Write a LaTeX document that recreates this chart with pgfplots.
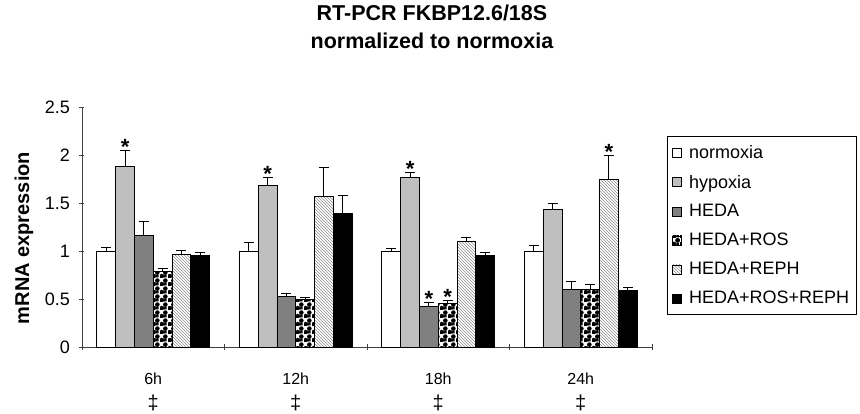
\documentclass[border=0pt]{standalone}
\usepackage{fontspec}
\setmainfont{Liberation Sans}
\usepackage{pgfplots}
\usepackage{pgfplotstable}
\pgfplotsset{compat=1.18}
\usetikzlibrary{patterns}

\pgfdeclarepatternformonly{balls}{\pgfqpoint{0pt}{0pt}}{\pgfqpoint{8pt}{8pt}}{\pgfqpoint{8pt}{8pt}}{
  \pgfpathcircle{\pgfqpoint{2pt}{2pt}}{2.6pt}
  \pgfpathcircle{\pgfqpoint{6pt}{6pt}}{2.6pt}
  \pgfusepath{fill}
  \pgfpathrectangle{\pgfqpoint{4.6pt}{0.6pt}}{\pgfqpoint{2.8pt}{2.8pt}}
  \pgfusepath{fill}
}

\pgfplotstableread{
x y e
0 1.000 0.040
1 1.000 0.084
2 1.000 0.025
3 1.000 0.056
}\normoxia
\pgfplotstableread{
x y e
0 1.884 0.166
1 1.686 0.076
2 1.762 0.058
3 1.430 0.070
}\hypoxia
\pgfplotstableread{
x y e
0 1.160 0.150
1 0.526 0.028
2 0.420 0.047
3 0.602 0.080
}\heda
\pgfplotstableread{
x y e
0 0.786 0.028
1 0.500 0.015
2 0.457 0.028
3 0.602 0.045
}\hedaros
\pgfplotstableread{
x y e
0 0.966 0.044
1 1.569 0.297
2 1.098 0.048
3 1.749 0.251
}\hedareph
\pgfplotstableread{
x y e
0 0.949 0.041
1 1.389 0.190
2 0.949 0.031
3 0.592 0.028
}\hedarosreph

\newcommand{\dg}{{\fontsize{20}{20}\selectfont ‡}}

\begin{document}
\begin{tikzpicture}
\begin{axis}[
  name=ax,
  scale only axis,
  width=570pt, height=240pt,
  ybar=0pt, bar width=18.8pt,
  xmin=-0.5, xmax=3.5,
  ymin=0, ymax=2.5,
  ytick={0,0.5,1,1.5,2,2.5},
  yticklabels={0,0.5,1,1.5,2,2.5},
  xtick={0,1,2,3},
  xticklabels={{6h\\[6pt]\dg},{12h\\[6pt]\dg},{18h\\[6pt]\dg},{24h\\[6pt]\dg}},
  minor xtick={-0.5,0.5,1.5,2.5,3.5},
  major x tick style={draw=none},
  minor tick length=6pt,
  major tick length=5pt,
  tick align=outside,
  axis x line=bottom, axis y line=left,
  axis line style={-, black!75, line width=0.8pt},
  every tick/.style={black!75, line width=0.8pt},
  yticklabel style={font=\fontsize{18}{20}\selectfont, xshift=-6pt},
  xticklabel style={font=\fontsize{16}{19}\selectfont, align=center, yshift=-20pt},
  ylabel={mRNA expression},
  ylabel style={font=\bfseries\fontsize{20}{22}\selectfont, at={(axis description cs:-0.102,0.454)}, anchor=center},
  title={RT-PCR FKBP12.6/18S\\normalized to normoxia},
  title style={at={(0.614,1.4)}, anchor=north, inner sep=0pt, align=center, font=\bfseries\fontsize{21.5}{28}\selectfont},
  legend style={at={(1,0.879)}, anchor=north west, xshift=15pt, draw=black, line width=0.8pt,
    font=\fontsize{18}{18}\selectfont, row sep=11pt, inner xsep=5pt, inner ysep=7pt},
  legend cell align=left,
  legend image code/.code={\draw[#1, line width=0.8pt] (0pt,-4.5pt) rectangle (9pt,4.5pt); \path (14pt,0pt);},
  error bars/y dir=plus, error bars/y explicit,
  error bars/error bar style={black, line width=0.9pt},
  error bars/error mark options={rotate=90, mark size=5pt, line width=0.9pt, black},
]
\addplot[draw=black, line width=0.8pt, fill=white] table[x=x, y=y, y error=e] {\normoxia};
\addplot[draw=black, line width=0.8pt, fill=black!25] table[x=x, y=y, y error=e] {\hypoxia};
\addplot[draw=black, line width=0.8pt, fill=black!50] table[x=x, y=y, y error=e] {\heda};
\addplot[draw=black, line width=0.8pt, pattern=balls, pattern color=black] table[x=x, y=y, y error=e] {\hedaros};
\addplot[draw=black, line width=0.8pt, pattern=north west lines, pattern color=black!45] table[x=x, y=y, y error=e] {\hedareph};
\addplot[draw=black, line width=0.8pt, fill=black] table[x=x, y=y, y error=e] {\hedarosreph};
\legend{normoxia,hypoxia,HEDA,HEDA+ROS,HEDA+REPH,HEDA+ROS+REPH}
\tikzset{star/.style={font=\bfseries\fontsize{22}{22}\selectfont, anchor=base, inner sep=0pt, yshift=-4pt}}
\node[star] at ([xshift=-28.2pt]axis cs:0,2.05) {*};
\node[star] at ([xshift=-28.2pt]axis cs:1,1.762) {*};
\node[star] at ([xshift=-28.2pt]axis cs:2,1.82) {*};
\node[star] at ([xshift=-9.4pt]axis cs:2,0.467) {*};
\node[star] at ([xshift=9.4pt]axis cs:2,0.485) {*};
\node[star] at ([xshift=28.2pt]axis cs:3,2.0) {*};
\end{axis}
\pgfresetboundingbox
\path (ax.south west) ++(-82pt,-66pt) rectangle ++(860pt,413pt);
\end{tikzpicture}
\end{document}
